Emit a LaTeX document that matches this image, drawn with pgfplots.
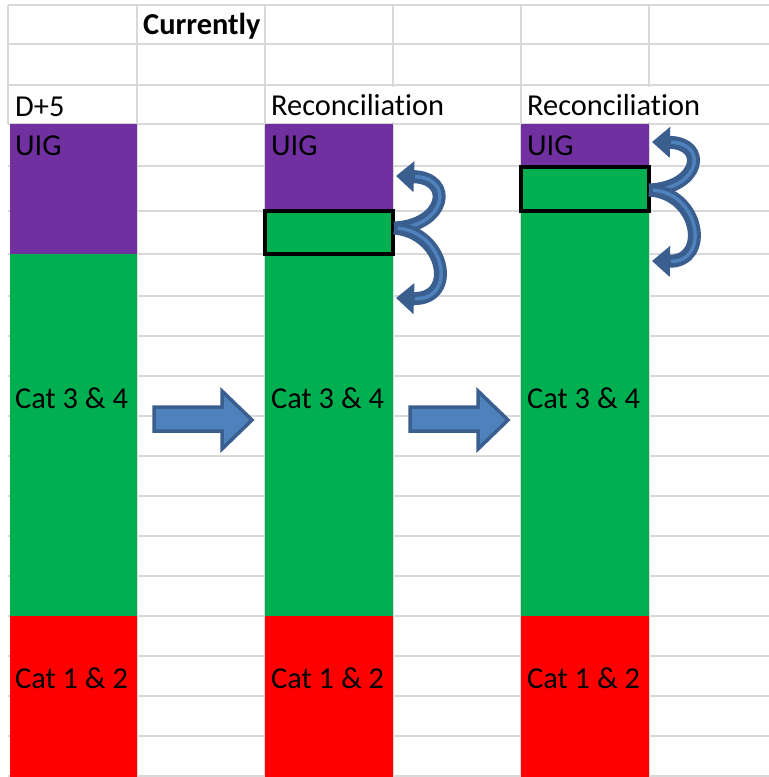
\documentclass[border=0pt]{standalone}
\usepackage{pgfplots}
\pgfplotsset{compat=1.18}
\usepackage{fontspec}
\setmainfont{Carlito}[Ligatures=NoCommon]
\usetikzlibrary{arrows.meta}

\definecolor{uig}{HTML}{7030A0}
\definecolor{catgreen}{HTML}{00B050}
\definecolor{catred}{HTML}{FF0000}
\definecolor{cellgrid}{HTML}{D9D9D9}
\definecolor{arrowfill}{HTML}{4F81BD}
\definecolor{arrowline}{HTML}{3A5F8E}

\begin{document}
\begin{tikzpicture}[
    cell/.style={anchor=base west, inner sep=0pt,
      font=\fontsize{30.4bp}{36bp}\selectfont},
    swoop/.style={arrowline, line width=13bp, -{Triangle[length=18bp, width=30bp]}},
    shine/.style={arrowfill, line width=3.5bp, shorten >=19bp, shorten <=4bp},
  ]
  % sheet in pixel units, y running downwards like the screenshot
  \begin{axis}[
      x=1bp, y=1bp, y dir=reverse,
      xmin=8, xmax=769, ymin=5, ymax=777,
      enlargelimits=false, clip=false,
      axis line style={draw=none},
      tick style={draw=none},
      xtick={137,265,393,521,649},
      ytick={5,44,85,124,166,211,254,296,336,...,776},
      xticklabels={}, yticklabels={},
      grid=major,
      major grid style={cellgrid, line width=2bp},
  ]
  \coordinate (tl) at (axis cs:0,0);
  \coordinate (br) at (axis cs:769,777);
  \draw[cellgrid, line width=2bp] (axis cs:8,5) -- (axis cs:8,124);
  % overflowing header text hides the grid line
  \fill[white] (axis cs:390,87) rectangle (axis cs:396,122);
  \fill[white] (axis cs:646,87) rectangle (axis cs:652,122);

  %-------------------------------
  % D+5 column
  \addplot[fill=uig, draw=none] coordinates {(10,124)(137,124)(137,254)(10,254)} -- cycle;
  \addplot[fill=catgreen, draw=none] coordinates {(10,254)(137,254)(137,616)(10,616)} -- cycle;
  \addplot[fill=catred, draw=none] coordinates {(10,616)(137,616)(137,777)(10,777)} -- cycle;

  % first reconciliation
  \addplot[fill=uig, draw=none] coordinates {(265,124)(393,124)(393,211)(265,211)} -- cycle;
  \addplot[fill=catgreen, draw=none] coordinates {(265,211)(393,211)(393,616)(265,616)} -- cycle;
  \addplot[fill=catred, draw=none] coordinates {(265,616)(393,616)(393,777)(265,777)} -- cycle;
  \addplot[fill=catgreen, draw=black, line width=4.5bp] coordinates {(265,211)(393,211)(393,254)(265,254)} -- cycle;

  % second reconciliation
  \addplot[fill=uig, draw=none] coordinates {(521,124)(649,124)(649,167)(521,167)} -- cycle;
  \addplot[fill=catgreen, draw=none] coordinates {(521,167)(649,167)(649,616)(521,616)} -- cycle;
  \addplot[fill=catred, draw=none] coordinates {(521,616)(649,616)(649,777)(521,777)} -- cycle;
  \addplot[fill=catgreen, draw=black, line width=4.5bp] coordinates {(521,167)(649,167)(649,211)(521,211)} -- cycle;

  %-------------------------------
  % block arrows between the columns
  \addplot[fill=arrowfill, draw=arrowline, line width=3.5bp, line join=miter]
    coordinates {(154,407)(222,407)(222,391)(252,420)(222,449)(222,431)(154,431)} -- cycle;
  \addplot[fill=arrowfill, draw=arrowline, line width=3.5bp, line join=miter]
    coordinates {(410,407)(478,407)(478,391)(508,420)(478,449)(478,431)(410,431)} -- cycle;

  % curved arrows
  \draw[swoop] (axis cs:394,228) .. controls (axis cs:445,226) and (axis cs:455,178) .. (axis cs:396,176);
  \draw[shine] (axis cs:394,228) .. controls (axis cs:445,226) and (axis cs:455,178) .. (axis cs:396,176);
  \draw[swoop] (axis cs:394,228) .. controls (axis cs:445,232) and (axis cs:458,300) .. (axis cs:396,298);
  \draw[shine] (axis cs:394,228) .. controls (axis cs:445,232) and (axis cs:458,300) .. (axis cs:396,298);
  \draw[swoop] (axis cs:649,190) .. controls (axis cs:700,188) and (axis cs:708,143) .. (axis cs:652,142);
  \draw[shine] (axis cs:649,190) .. controls (axis cs:700,188) and (axis cs:708,143) .. (axis cs:652,142);
  \draw[swoop] (axis cs:649,190) .. controls (axis cs:700,193) and (axis cs:710,262) .. (axis cs:652,261);
  \draw[shine] (axis cs:649,190) .. controls (axis cs:700,193) and (axis cs:710,262) .. (axis cs:652,261);

  %-------------------------------
  % cell texts
  \node[cell, font=\fontsize{30.4bp}{36bp}\selectfont\bfseries] at (axis cs:143,35) {Currently};
  \node[cell] at (axis cs:15,116) {D+5};
  \node[cell] at (axis cs:271,115) {Reconciliation};
  \node[cell] at (axis cs:527,115) {Reconciliation};
  \node[cell] at (axis cs:15,155) {UIG};
  \node[cell] at (axis cs:271,155) {UIG};
  \node[cell] at (axis cs:527,155) {UIG};
  \node[cell] at (axis cs:15,408) {Cat 3 \& 4};
  \node[cell] at (axis cs:271,408) {Cat 3 \& 4};
  \node[cell] at (axis cs:527,408) {Cat 3 \& 4};
  \node[cell] at (axis cs:15,688) {Cat 1 \& 2};
  \node[cell] at (axis cs:271,688) {Cat 1 \& 2};
  \node[cell] at (axis cs:527,688) {Cat 1 \& 2};
  \end{axis}
  \pgfresetboundingbox
  \path[use as bounding box] (tl) rectangle (br);
\end{tikzpicture}
\end{document}
